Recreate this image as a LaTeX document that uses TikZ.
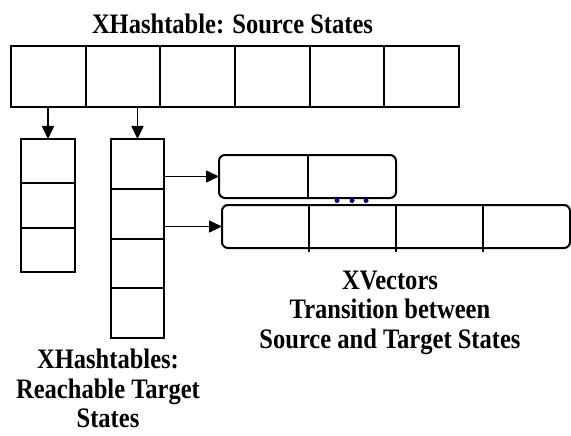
\documentclass[tikz,border=0pt]{standalone}
\usepackage{fontspec}
\newfontfamily\labelfont[FakeStretch=0.87]{Liberation Serif}
\usepackage{tikz}
\usetikzlibrary{calc, positioning, arrows.meta}
\definecolor{navy}{RGB}{0,0,128}

\begin{document}
\begin{tikzpicture}[x=1pt, y=-1pt, line width=2pt,
    font=\labelfont\bfseries\fontsize{28.2}{29.5}\selectfont,
    cell/.style={draw, rectangle, inner sep=0pt, outer sep=0pt},
    vec/.style={draw, rectangle, rounded corners=6pt, inner sep=0pt, outer sep=0pt, minimum height=43pt},
    arr/.style={-{Triangle[length=13pt, width=12pt]}, line width=1.6pt},
    lbl/.style={align=center, inner sep=0pt, anchor=north}]
  \useasboundingbox (0,0) rectangle (571,436);
  % source states
  \foreach \i in {1,...,6}
    \node[cell, minimum width=74.67pt, minimum height=61pt] (s\i) at ({11+74.67*(\i-0.5)},76.5) {};
  \node[lbl] (title) at (232.5,13) {XHashtable: Source States};
  % reachable target states
  \foreach \i in {1,2,3}
    \node[cell, minimum width=54pt, minimum height=44.33pt] (a\i) at (48,{139+44.33*(\i-0.5)}) {};
  \foreach \i in {1,...,4}
    \node[cell, minimum width=53pt, minimum height=49.75pt] (b\i) at (137.5,{139+49.75*(\i-0.5)}) {};
  \draw[arr] (s1.south -| a1.north) -- (a1.north);
  \draw[arr] (s2.south -| b1.north) -- (b1.north);
  % transition vectors
  \node[vec, minimum width=177pt] (v1) at (307.5,176.5) {};
  \node[vec, minimum width=348pt] (v2) at (396,226.5) {};
  \draw ($(v1.north west)!0.5!(v1.north east)$) -- ($(v1.south west)!0.5!(v1.south east)$);
  \foreach \k in {1,2,3}
    \draw ($(v2.north west)!\k/4!(v2.north east)$) -- ($(v2.south west)!\k/4!(v2.south east)+(0,4)$);
  \draw[arr] (b1.east |- v1.west) -- (v1.west);
  \draw[arr] (b1.east |- v2.west) -- (v2.west);
  \foreach \x in {337,352,366} \fill[navy] (\x,200.5) circle (2.5pt);
  % labels
  \node[lbl] (vlabel) at (390,270) {XVectors\\Transition between\\Source and Target States};
  \node[lbl] (tlabel) at (108,348) {XHashtables:\\Reachable Target\\States};
\end{tikzpicture}
\end{document}
